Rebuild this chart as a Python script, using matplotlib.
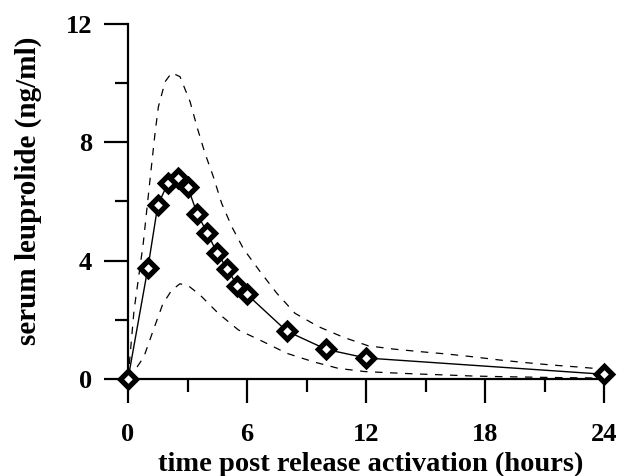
import numpy as np
import matplotlib.pyplot as plt
from matplotlib.ticker import MultipleLocator

# mean serum leuprolide
t = [0, 1, 1.5, 2, 2.5, 3, 3.5, 4, 4.5, 5, 5.5, 6, 8, 10, 12, 24]
conc = [0, 3.75, 5.87, 6.61, 6.8, 6.5, 5.57, 4.93, 4.25, 3.73, 3.16, 2.86, 1.62, 1.0, 0.71, 0.16]

# upper bound (dashed)
t_up = [0, 0.3, 0.77, 1.07, 1.36, 1.53, 1.87, 2.2, 2.62, 3.13, 3.5, 3.88, 4.3, 4.72,
        5.23, 5.82, 6.66, 7.5, 8.42, 9.6, 10.86, 12.12, 13.4, 14.8, 16.07, 17.4,
        18.76, 20.1, 21.4, 22.8, 24]
c_up = [0, 2.3, 4.6, 6.5, 8.3, 9.2, 10.05, 10.35, 10.22, 9.37, 8.47, 7.63, 6.84, 5.94,
        5.15, 4.4, 3.63, 2.9, 2.22, 1.77, 1.41, 1.12, 1.01, 0.92, 0.845, 0.75,
        0.64, 0.55, 0.47, 0.4, 0.33]

# lower bound (dashed)
t_lo = [0, 0.4, 0.8, 1.28, 1.75, 2.2, 2.62, 3.1, 3.63, 4.55, 5.56, 6.82, 8.0, 9.35,
        10.6, 11.95, 13.2, 14.56, 16.07, 17.4, 18.76, 21.4, 24]
c_lo = [0, 0.35, 0.75, 1.66, 2.53, 3.0, 3.22, 3.12, 2.84, 2.22, 1.66, 1.26, 0.87, 0.58,
        0.36, 0.25, 0.21, 0.17, 0.135, 0.1, 0.08, 0.05, 0.03]

plt.rcParams['font.family'] = ['Liberation Serif', 'DejaVu Serif']
plt.rcParams['font.weight'] = 'bold'

fig = plt.figure(figsize=(6.2, 4.76), dpi=100)
ax = fig.add_axes([0.2065, 0.2038, 0.7677, 0.7458])

ax.plot(t_up, c_up, color='black', lw=0.9, dashes=(6, 6))
ax.plot(t_lo, c_lo, color='black', lw=0.9, dashes=(6, 6))
ax.plot(t, conc, color='black', lw=1.0, marker='D', ms=8.5, mfc='white',
        mec='black', mew=3.8, clip_on=False, zorder=5)

ax.set_xlim(0, 24)
ax.set_ylim(0, 12)
ax.xaxis.set_major_locator(MultipleLocator(6))
ax.xaxis.set_minor_locator(MultipleLocator(3))
ax.yaxis.set_major_locator(MultipleLocator(4))
ax.yaxis.set_minor_locator(MultipleLocator(2))

for s in ['top', 'right']:
    ax.spines[s].set_visible(False)
for s in ['left', 'bottom']:
    ax.spines[s].set_linewidth(1.6)

ax.tick_params(which='major', direction='out', length=17, width=1.6, labelsize=19)
ax.tick_params(axis='x', which='major', pad=15)
ax.tick_params(axis='y', which='major', pad=9)
ax.tick_params(which='minor', direction='out', length=9.5, width=1.6)

ax.set_xlabel('time post release activation (hours)', fontsize=20.5, fontweight='bold')
ax.set_ylabel('serum leuprolide (ng/ml)', fontsize=21, fontweight='bold')
ax.xaxis.set_label_coords(0.51, -0.205)
ax.yaxis.set_label_coords(-0.18, 0.53)

fig.savefig('out.png', dpi=100)
